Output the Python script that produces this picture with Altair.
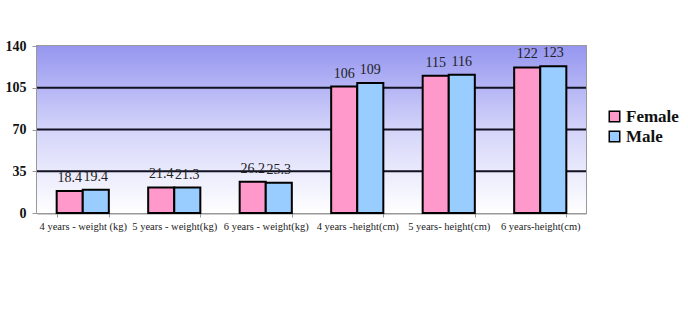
import altair as alt
import pandas as pd

categories = ["4 years - weight (kg)", "5 years - weight(kg)", "6 years - weight(kg)",
              "4 years -height(cm)", "5 years- height(cm)", "6 years-height(cm)"]
female = [18.4, 21.4, 26.2, 106, 115, 122]
male = [19.4, 21.3, 25.3, 109, 116, 123]
female_labels = ["18.4", "21.4", "26.2", "106", "115", "122"]
male_labels = ["19.4", "21.3", "25.3", "109", "116", "123"]
series = ["Female", "Male"]
colors = ["#ff99cc", "#99ccff"]
grid_values = [35, 70, 105]
y_ticks = [0, 35, 70, 105, 140]

rows = []
for i, c in enumerate(categories):
    rows.append({"cat": c, "sex": "Female", "value": female[i], "label": female_labels[i]})
    rows.append({"cat": c, "sex": "Male", "value": male[i], "label": male_labels[i]})
df = pd.DataFrame(rows)

W, H = 549, 167
FONT = "Liberation Serif"

bg = alt.Chart(pd.DataFrame({"a": [0]})).mark_rect(
    color=alt.Gradient(
        gradient="linear", x1=0, x2=0, y1=0, y2=1,
        stops=[alt.GradientStop(color="#9696f0", offset=0),
               alt.GradientStop(color="#d4d4fa", offset=0.5),
               alt.GradientStop(color="#ffffff", offset=1)]
    )
).encode(x=alt.value(0), x2=alt.value(W), y=alt.value(0), y2=alt.value(H))

grid = alt.Chart(pd.DataFrame({"g": grid_values})).mark_rule(
    color="#111122", strokeWidth=2
).encode(y=alt.Y("g:Q", scale=alt.Scale(domain=[0, 140])))

xenc = alt.X("cat:N", sort=categories, title=None,
             scale=alt.Scale(paddingInner=0.43, paddingOuter=0.215),
             axis=alt.Axis(labelAngle=0, labelFont=FONT, labelFontSize=10.5,
                           labelColor="#222222", domainColor="#999999",
                           domainWidth=2, tickColor="#999999", tickBand="extent",
                           tickSize=4, labelPadding=4, labelLimit=200))
yenc = alt.Y("value:Q", title=None,
             scale=alt.Scale(domain=[0, 140]),
             axis=alt.Axis(values=y_ticks, grid=False, labelFont=FONT,
                           labelFontSize=14, labelFontWeight="bold",
                           labelColor="#111111", domainColor="#999999",
                           domainWidth=2, tickColor="#999999", tickSize=5,
                           labelPadding=6))

bars = alt.Chart(df).mark_bar(stroke="black", strokeWidth=2).encode(
    x=xenc,
    xOffset=alt.XOffset("sex:N", sort=series),
    y=yenc,
    color=alt.Color("sex:N", sort=series,
                    scale=alt.Scale(domain=series, range=colors),
                    legend=alt.Legend(title=None, orient="none", legendX=569, legendY=62,
                                      symbolType="square", symbolSize=110,
                                      symbolStrokeColor="black", symbolStrokeWidth=1.5,
                                      labelFont=FONT, labelFontSize=17,
                                      labelFontWeight="bold", labelColor="#111111",
                                      rowPadding=2, labelOffset=3))
)

labels = alt.Chart(df).mark_text(
    font=FONT, fontSize=14, color="#222222", baseline="bottom", dy=-6
).encode(
    x=alt.X("cat:N", sort=categories),
    xOffset=alt.XOffset("sex:N", sort=series),
    y=alt.Y("value:Q"),
    text="label:N"
)

chart = alt.layer(bg, grid, bars, labels).properties(
    width=W, height=H,
    padding={"left": 37, "top": 46, "right": 102, "bottom": 96},
    autosize=alt.AutoSizeParams(type="none"),
    background="white"
).configure_view(stroke="#999999", strokeWidth=2)

chart.save("out.html", embed_options={"renderer": "svg", "actions": False})
